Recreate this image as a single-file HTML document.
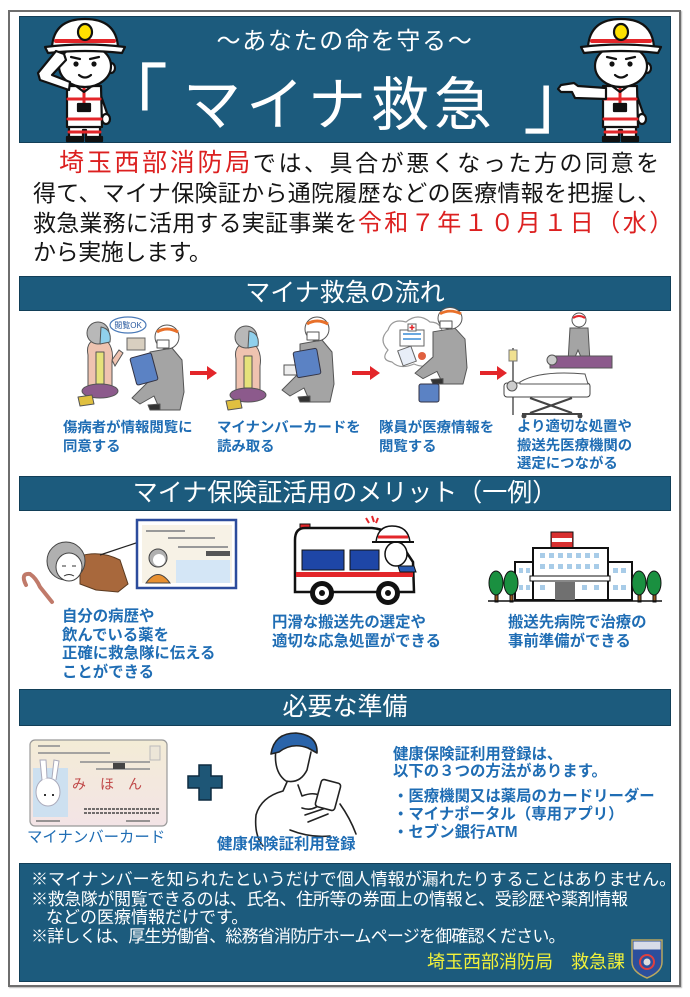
<!DOCTYPE html>
<html lang="ja"><head><meta charset="utf-8">
<style>
*{margin:0;padding:0;box-sizing:border-box}
html,body{width:690px;height:997px;background:#fff;overflow:hidden}
body{position:relative;font-family:"Liberation Sans","Noto Sans CJK JP",sans-serif}
.a{position:absolute;white-space:nowrap}
.bar{position:absolute;left:19px;width:652px;background:#1c5b7d;border:1px solid #123f58}
.bt{position:absolute;color:#fff;font-size:25px;text-align:center;left:19px;width:652px;white-space:nowrap}
.lb{color:#1f6db4;font-size:14.4px;line-height:18.5px;font-weight:bold}
.ml{color:#1f6db4;font-size:15.4px;line-height:18.7px;font-weight:bold}
.t{font-size:23px;line-height:30px;color:#151515;left:33px}
.r{color:#dc2020}
.f{color:#fff;font-size:17px;line-height:20px;left:31px}
</style></head><body>

<div class="a" style="left:8px;top:10px;width:673px;height:977px;border:2px solid #6e6e6e;box-shadow:1px 1px 1px #bbb"></div>
<div class="bar" style="top:16px;height:127px"></div>
<div class="bar" style="top:276px;height:35px"></div>
<div class="bar" style="top:476px;height:35px"></div>
<div class="bar" style="top:689px;height:37px"></div>
<div class="bar" style="top:863px;height:119px"></div>

<svg class="a" style="left:0;top:0" width="690" height="997" viewBox="0 0 690 997">
<defs>
<g id="ff" stroke="#111" stroke-width="2.2" stroke-linejoin="round" stroke-linecap="round">
 <path d="M69 126 H100 V138 H86 V130 H83 V138 H69 Z" fill="#fff"/>
 <path d="M69 132 H100" stroke="#e3262a" stroke-width="3"/>
 <rect x="67" y="137" width="16" height="4" fill="#111"/>
 <rect x="86" y="137" width="16" height="4" fill="#111"/>
 <path d="M99 90 L108 116 L103 120 L96 98 Z" fill="#fff"/>
 <ellipse cx="106" cy="119" rx="4" ry="5" fill="#fff"/>
 <path d="M67 86 H101 L102 127 H67 Z" fill="#fff"/>
 <path d="M68 99 H100 M68 119 H101" stroke="#e3262a" stroke-width="3"/>
 <path d="M84 88 V104" stroke="#e3262a" stroke-width="3"/>
 <rect x="78" y="104" width="12" height="7" fill="#111"/>
 <path d="M76 86 L84 92 L92 86" fill="none"/>
 <ellipse cx="111" cy="68" rx="4" ry="5" fill="#fff"/>
 <ellipse cx="85" cy="66" rx="26" ry="21" fill="#fff"/>
 <circle cx="76" cy="64" r="2.6" fill="#111" stroke="none"/>
 <circle cx="94" cy="64" r="2.6" fill="#111" stroke="none"/>
 <path d="M71 57 L80 59 M90 59 L99 57" fill="none"/>
 <path d="M79 75 Q85 80 91 75" fill="none"/>
 <path d="M52 47 Q54 19 85 19 Q116 19 118 47 Z" fill="#fff"/>
 <path d="M56 41 H114" stroke="#e3262a" stroke-width="4"/>
 <path d="M45 47 Q85 42 125 47 L122 53 Q85 49 48 53 Z" fill="#fff"/>
 <ellipse cx="85" cy="32" rx="7" ry="8" fill="#ffe100"/>
</g>
<g id="wom" stroke="#555" stroke-width="1" stroke-linejoin="round">
 <path d="M88 355 Q86 345 92 341 L108 342 Q114 350 112 362 L112 388 L88 388 Z" fill="#efc3b0"/>
 <path d="M96 352 L104 352 L104 384 L96 384 Z" fill="#e6e27a"/>
 <ellipse cx="100" cy="391" rx="18" ry="7" fill="#8c5a8c"/>
 <path d="M78 397 L92 395 L94 404 L80 406 Z" fill="#e0c040"/>
 <circle cx="98" cy="333" r="11" fill="#b8b8b8"/>
 <path d="M101 327 Q112 329 110 342 L100 344 Z" fill="#90d0ec"/>
</g>
<g id="res" stroke="#555" stroke-width="1" stroke-linejoin="round">
 <path d="M150 352 L172 348 L182 360 L184 392 L180 410 L160 410 L154 396 L140 404 L132 398 L150 380 Z" fill="#a4a4a4"/>
 <path d="M160 410 L150 410 L148 405 L160 404 Z" fill="#333"/>
 <circle cx="167" cy="337" r="12" fill="#fff"/>
 <path d="M157 332 Q167 326 178 332" stroke="#e8702a" stroke-width="3" fill="none"/>
 <rect x="157" y="340" width="12" height="8" fill="#fff"/>
</g>
</defs>

<!-- header firefighters -->
<use href="#ff"/>
<path d="M69 90 L40 80 L38 73 L56 51 L64 54 L66 60 L52 75 L70 82 Z" fill="#fff" stroke="#111" stroke-width="2.2" stroke-linejoin="round"/>
<use href="#ff" transform="translate(536 0)"/>
<path d="M606 88 L578 86 L574 83 L561 85 L558 89 L561 92 L572 92 L575 98 L606 99 Z" fill="#fff" stroke="#111" stroke-width="2.2" stroke-linejoin="round"/>

<!-- flow step 1 -->
<ellipse cx="128" cy="325" rx="18" ry="8" fill="#fff" stroke="#4a7ab8" stroke-width="1.2"/>
<text x="128" y="328" font-size="8" fill="#2a5aa0" text-anchor="middle" font-family="Liberation Sans, Noto Sans CJK JP, sans-serif">閲覧OK</text>
<use href="#wom"/>
<path d="M112 360 L119 350 L123 353 L115 366 Z" fill="#efc3b0" stroke="#555" stroke-width="1"/>
<rect x="127" y="338" width="18" height="12" fill="#d8cfc0" stroke="#666"/>
<use href="#res"/>
<rect x="133" y="355" width="22" height="28" rx="2" fill="#5b82c4" stroke="#334" transform="rotate(-15 144 369)"/>

<!-- flow step 2 -->
<use href="#wom" transform="translate(148 4)"/>
<rect x="284" y="365" width="22" height="10" fill="#eee" stroke="#555"/>
<use href="#res" transform="translate(150 -8)"/>
<rect x="295" y="350" width="24" height="26" rx="2" fill="#5b82c4" stroke="#334" transform="rotate(-10 307 363)"/>

<!-- flow step 3 -->
<path d="M388 350 Q378 340 388 330 Q392 318 406 322 Q418 312 430 322 Q444 322 442 338 Q448 352 436 360 Q428 370 414 364 Q400 370 392 362 Q380 360 388 350 Z" fill="#fff" stroke="#999" stroke-width="1.2"/>
<rect x="400" y="330" width="24" height="16" fill="#fff" stroke="#666"/>
<rect x="408" y="324" width="8" height="7" fill="#fff" stroke="#666"/>
<path d="M412 325 V330 M409.5 327.5 H414.5" stroke="#e3262a" stroke-width="1.5"/>
<path d="M403 334 H421 M403 339 H421" stroke="#6aa8e0" stroke-width="2"/>
<rect x="400" y="348" width="14" height="16" fill="#e8eef8" stroke="#666" transform="rotate(-20 407 356)"/>
<circle cx="422" cy="356" r="4" fill="#e06040"/>
<use href="#res" transform="translate(283 15) scale(1 0.9)"/>
<rect x="419" y="384" width="20" height="18" rx="2" fill="#5b82c4" stroke="#334"/>

<!-- flow step 4 -->
<line x1="513" y1="348" x2="513" y2="415" stroke="#555" stroke-width="1.5"/>
<rect x="509" y="350" width="8" height="11" fill="#f0e090" stroke="#777"/>
<circle cx="579" cy="320" r="7" fill="#fff" stroke="#555"/>
<path d="M573 318 Q579 314 585 318" stroke="#e3262a" stroke-width="2" fill="none"/>
<path d="M570 328 L588 328 L590 362 L584 364 L578 350 L572 364 L568 362 Z" fill="#a4a4a4" stroke="#555"/>
<path d="M550 356 L612 356 L612 368 L550 368 Z" fill="#8c5a8c" stroke="#555"/>
<circle cx="552" cy="360" r="5" fill="#ccc" stroke="#555"/>
<rect x="504" y="383" width="86" height="14" rx="3" fill="#fff" stroke="#444"/>
<path d="M520 382 Q540 370 585 374 L588 384 L520 384 Z" fill="#fff" stroke="#555"/>
<circle cx="512" cy="386" r="5" fill="#ccc" stroke="#555"/>
<path d="M530 398 L572 413 M572 398 L530 413" stroke="#444" stroke-width="2"/>
<path d="M522 414 H582" stroke="#444" stroke-width="2"/>
<circle cx="524" cy="416" r="2.5" fill="#444"/><circle cx="580" cy="416" r="2.5" fill="#444"/>

<!-- arrows -->
<path d="M190 371 H207 V366 L217 373 L207 380 V375 H190 Z" fill="#e3262a"/>
<path d="M352 371 H370 V366 L380 373 L370 380 V375 H352 Z" fill="#e3262a"/>
<path d="M480 371 H497 V366 L507 373 L497 380 V375 H480 Z" fill="#e3262a"/>

<!-- merit 1 -->
<path d="M26 585 Q20 573 30 574 Q36 578 40 587 L52 602" fill="none" stroke="#c07a6a" stroke-width="4" stroke-linecap="round"/>
<path d="M80 556 Q100 550 120 560 L128 584 L118 592 L96 590 L80 584 Z" fill="#a8683c" stroke="#5a3a20"/>
<circle cx="66" cy="561" r="19" fill="#b0b0b0" stroke="#444"/>
<ellipse cx="69" cy="567" rx="13" ry="14" fill="#fff" stroke="#444"/>
<path d="M62 566 H66 M72 566 H76 M64 576 Q69 573 74 576" stroke="#333" fill="none"/>
<path d="M100 555 L139 542" stroke="#222" stroke-width="1.2"/>
<rect x="137" y="520" width="99" height="68" fill="#fff" stroke="#2c4c9c" stroke-width="2.5"/>
<rect x="142" y="525" width="90" height="58" fill="#f7f2e6"/>
<path d="M146 531 H185 M168 538 H215 M178 547 H228" stroke="#999" stroke-width="2"/>
<rect x="206" y="551" width="24" height="5" fill="#555"/>
<rect x="176" y="560" width="54" height="23" fill="#d4e6f6"/>
<circle cx="158" cy="558" r="9" fill="#b0b0b0" stroke="#444"/>
<circle cx="159" cy="560" r="6" fill="#fff"/>
<path d="M146 583 Q158 566 170 583 Z" fill="#e89030" stroke="#444"/>

<!-- merit 2 ambulance -->
<path d="M372 516 L374 522 M366 518 L369 523 M378 518 L376 523" stroke="#e3262a" stroke-width="2"/>
<rect x="300" y="524" width="10" height="5" fill="#e3262a" stroke="#111"/>
<path d="M295 540 Q295 528 305 528 L372 528 Q395 530 405 550 L413 562 L414 592 L295 592 Z" fill="#fff" stroke="#111" stroke-width="2.5"/>
<rect x="302" y="550" width="42" height="20" fill="#1e46a6" stroke="#111"/>
<rect x="350" y="550" width="29" height="20" fill="#1e46a6" stroke="#111"/>
<rect x="296" y="572" width="117" height="5" fill="#e3262a"/>
<circle cx="322" cy="593" r="12" fill="#111"/><circle cx="322" cy="593" r="7" fill="#fff"/><circle cx="322" cy="593" r="3" fill="#111"/>
<circle cx="388" cy="593" r="12" fill="#111"/><circle cx="388" cy="593" r="7" fill="#fff"/><circle cx="388" cy="593" r="3" fill="#111"/>
<ellipse cx="396" cy="554" rx="11" ry="12" fill="#fff" stroke="#111" stroke-width="1.5"/>
<path d="M376 542 Q378 526 392 526 Q408 526 410 542 Z" fill="#fff" stroke="#111" stroke-width="1.5"/>
<path d="M378 537 H408" stroke="#e3262a" stroke-width="3"/>
<path d="M372 542 H414" stroke="#111" stroke-width="2"/>
<path d="M398 566 L414 566 L416 572 L400 572 Z" fill="#2a5ab0" stroke="#111"/>

<!-- merit 3 hospital -->
<rect x="551" y="532" width="22" height="18" fill="#d83030" stroke="#111"/>
<rect x="552" y="538" width="20" height="4" fill="#fff"/>
<rect x="533" y="548" width="75" height="52" fill="#fff" stroke="#111" stroke-width="2"/>
<rect x="515" y="562" width="18" height="38" fill="#fff" stroke="#111" stroke-width="2"/>
<rect x="608" y="562" width="24" height="38" fill="#fff" stroke="#111" stroke-width="2"/>
<g fill="#a8cce8">
<rect x="540" y="553" width="5" height="5"/><rect x="549" y="553" width="5" height="5"/><rect x="558" y="553" width="5" height="5"/><rect x="567" y="553" width="5" height="5"/><rect x="576" y="553" width="5" height="5"/><rect x="585" y="553" width="5" height="5"/><rect x="594" y="553" width="5" height="5"/>
<rect x="540" y="564" width="5" height="5"/><rect x="549" y="564" width="5" height="5"/><rect x="558" y="564" width="5" height="5"/><rect x="567" y="564" width="5" height="5"/><rect x="576" y="564" width="5" height="5"/><rect x="585" y="564" width="5" height="5"/><rect x="594" y="564" width="5" height="5"/>
<rect x="519" y="568" width="4" height="5"/><rect x="526" y="568" width="4" height="5"/><rect x="519" y="585" width="4" height="5"/><rect x="526" y="585" width="4" height="5"/>
<rect x="613" y="568" width="5" height="5"/><rect x="621" y="568" width="5" height="5"/><rect x="613" y="585" width="5" height="5"/><rect x="621" y="585" width="5" height="5"/>
<rect x="540" y="585" width="5" height="5"/><rect x="582" y="585" width="5" height="5"/><rect x="594" y="585" width="5" height="5"/>
</g>
<rect x="530" y="576" width="80" height="5" fill="#fff" stroke="#111"/>
<rect x="555" y="582" width="20" height="18" fill="#707070"/>
<g stroke="#111" stroke-width="1">
<rect x="495" y="590" width="3" height="12" fill="#9a5a20"/><rect x="510" y="590" width="3" height="12" fill="#9a5a20"/>
<rect x="638" y="590" width="3" height="12" fill="#9a5a20"/><rect x="653" y="590" width="3" height="12" fill="#9a5a20"/>
<ellipse cx="496" cy="583" rx="7" ry="12" fill="#1a9040"/><ellipse cx="511" cy="583" rx="7" ry="12" fill="#1a9040"/>
<ellipse cx="639" cy="583" rx="7" ry="12" fill="#1a9040"/><ellipse cx="654" cy="583" rx="7" ry="12" fill="#1a9040"/>
</g>
<path d="M488 601 H662" stroke="#111" stroke-width="1.5"/>

<!-- prep: card -->
<defs><linearGradient id="cg" x1="0" y1="0" x2="0" y2="1"><stop offset="0" stop-color="#f3ecd6"/><stop offset="1" stop-color="#f3e4e6"/></linearGradient></defs>
<rect x="30" y="740" width="137" height="86" rx="5" fill="url(#cg)" stroke="#999" stroke-width="1.2"/>
<path d="M38 746 H60 M38 753 H110 M80 762 H150 M96 769 H150" stroke="#999" stroke-width="1.8"/>
<rect x="113" y="763" width="12" height="6" fill="#444"/>
<rect x="33" y="768" width="35" height="49" fill="#cde0f0"/>
<ellipse cx="48" cy="792" rx="12" ry="14" fill="#fff" stroke="#aab"/>
<path d="M42 780 L40 760 L46 760 L47 778 M52 778 L54 760 L59 761 L56 780" fill="#fff" stroke="#aab"/>
<path d="M44 795 H46 M52 795 H54" stroke="#333" stroke-width="2"/>
<rect x="150" y="746" width="10" height="14" fill="#ece6d8" stroke="#bbb"/>
<text x="72" y="789" font-size="14" fill="#c04848" font-family="Liberation Sans, Noto Sans CJK JP, sans-serif">み　ほ　ん</text>
<path d="M84 809 H160 M84 813 H160" stroke="#444" stroke-width="1.5" stroke-dasharray="3 1"/>
<path d="M36 821 H60 M126 821 H150" stroke="#777" stroke-width="1.5"/>

<!-- plus -->
<path d="M199 765 H211 V776 H222 V788 H211 V800 H199 V788 H188 V776 H199 Z" fill="#1e5676" stroke="#0e2c40" stroke-width="1.5"/>

<!-- man with phone -->
<g fill="none" stroke="#222" stroke-width="1.6" stroke-linecap="round" stroke-linejoin="round">
 <path d="M276 748 Q273 772 286 781 Q300 784 307 770 L311 752" fill="#fff"/>
 <path d="M271 754 Q274 733 296 733 Q318 735 317 753 L308 748 Q292 742 279 752 Z" fill="#2a64aa"/>
 <path d="M287 782 L283 791 Q261 797 256 815 Q254 835 263 846"/>
 <path d="M298 785 L302 796 Q318 790 324 800"/>
 <path d="M302 808 Q314 812 322 802 M305 815 L326 808 M308 822 L328 814"/>
 <rect x="318" y="781" width="20" height="28" rx="3" transform="rotate(15 328 795)" fill="#fff"/>
 <path d="M340 804 Q350 818 356 834 M290 830 Q310 838 330 836"/>
</g>

<!-- emblem -->
<path d="M632 940 H662 V962 Q662 972 647 978 Q632 972 632 962 Z" fill="#2c4f9c" stroke="#b8a860" stroke-width="1.5"/>
<rect x="633.5" y="941.5" width="27" height="8" fill="#d8dce8"/>
<circle cx="647" cy="962" r="7" fill="none" stroke="#e04040" stroke-width="2"/>
<circle cx="647" cy="962" r="3.5" fill="#ddd"/>
</svg>

<!-- header text -->
<div class="a" style="left:0;width:690px;text-align:center;top:27px;font-size:24px;line-height:30px;letter-spacing:1.7px;color:#fff">～あなたの命を守る～</div>
<div class="a" style="left:94px;top:63px;font-size:74px;line-height:74px;color:#fff">「</div>
<div class="a" style="left:183px;top:77px;font-size:58px;line-height:58px;letter-spacing:5px;color:#fff">マイナ救急</div>
<div class="a" style="left:523px;top:65px;font-size:74px;line-height:74px;color:#fff">」</div>

<!-- intro -->
<div class="a t" style="top:148px;padding-left:26px"><span class="r" style="font-size:25px;letter-spacing:2.7px">埼玉西部消防局</span><span style="letter-spacing:2.55px">では、具合が悪くなった方の同意を</span></div>
<div class="a t" style="top:178px;letter-spacing:0.3px">得て、マイナ保険証から通院履歴などの医療情報を把握し、</div>
<div class="a t" style="top:208px"><span style="letter-spacing:0.2px">救急業務に活用する実証事業を</span><span class="r" style="font-size:24px;letter-spacing:2.5px">令和７年１０月１日（水）</span></div>
<div class="a t" style="top:237px;letter-spacing:-0.4px">から実施します。</div>

<!-- bar titles -->
<div class="bt" style="top:276px;line-height:35px">マイナ救急の流れ</div>
<div class="bt" style="top:476px;line-height:35px">マイナ保険証活用のメリット（一例）</div>
<div class="bt" style="top:689px;line-height:37px">必要な準備</div>

<!-- flow labels -->
<div class="a lb" style="left:63px;top:419px">傷病者が情報閲覧に<br>同意する</div>
<div class="a lb" style="left:217px;top:419px">マイナンバーカードを<br>読み取る</div>
<div class="a lb" style="left:379px;top:419px">隊員が医療情報を<br>閲覧する</div>
<div class="a lb" style="left:517px;top:418px">より適切な処置や<br>搬送先医療機関の<br>選定につながる</div>

<!-- merit labels -->
<div class="a ml" style="left:62px;top:608px">自分の病歴や<br>飲んでいる薬を<br>正確に救急隊に伝える<br>ことができる</div>
<div class="a ml" style="left:272px;top:614px">円滑な搬送先の選定や<br>適切な応急処置ができる</div>
<div class="a ml" style="left:508px;top:614px">搬送先病院で治療の<br>事前準備ができる</div>

<!-- prep labels -->
<div class="a ml" style="left:27px;top:829px;font-weight:normal">マイナンバーカード</div>
<div class="a ml" style="left:217px;top:836px">健康保険証利用登録</div>
<div class="a ml" style="left:393px;top:746px;line-height:17px">健康保険証利用登録は、<br>以下の３つの方法があります。</div>
<div class="a ml" style="left:393px;top:788px;line-height:18px">・医療機関又は薬局のカードリーダー<br>・マイナポータル（専用アプリ）<br>・セブン銀行ATM</div>

<!-- footer -->
<div class="a f" style="top:870px">※マイナンバーを知られたというだけで個人情報が漏れたりすることはありません。</div>
<div class="a f" style="top:890px;letter-spacing:-0.4px">※救急隊が閲覧できるのは、氏名、住所等の券面上の情報と、受診歴や薬剤情報</div>
<div class="a f" style="top:908px;padding-left:15px">などの医療情報だけです。</div>
<div class="a f" style="top:927px;letter-spacing:-0.8px">※詳しくは、厚生労働省、総務省消防庁ホームページを御確認ください。</div>
<div class="a" style="left:427px;top:951px;font-size:18px;line-height:22px;color:#f2f23a">埼玉西部消防局　救急課</div>

</body></html>
